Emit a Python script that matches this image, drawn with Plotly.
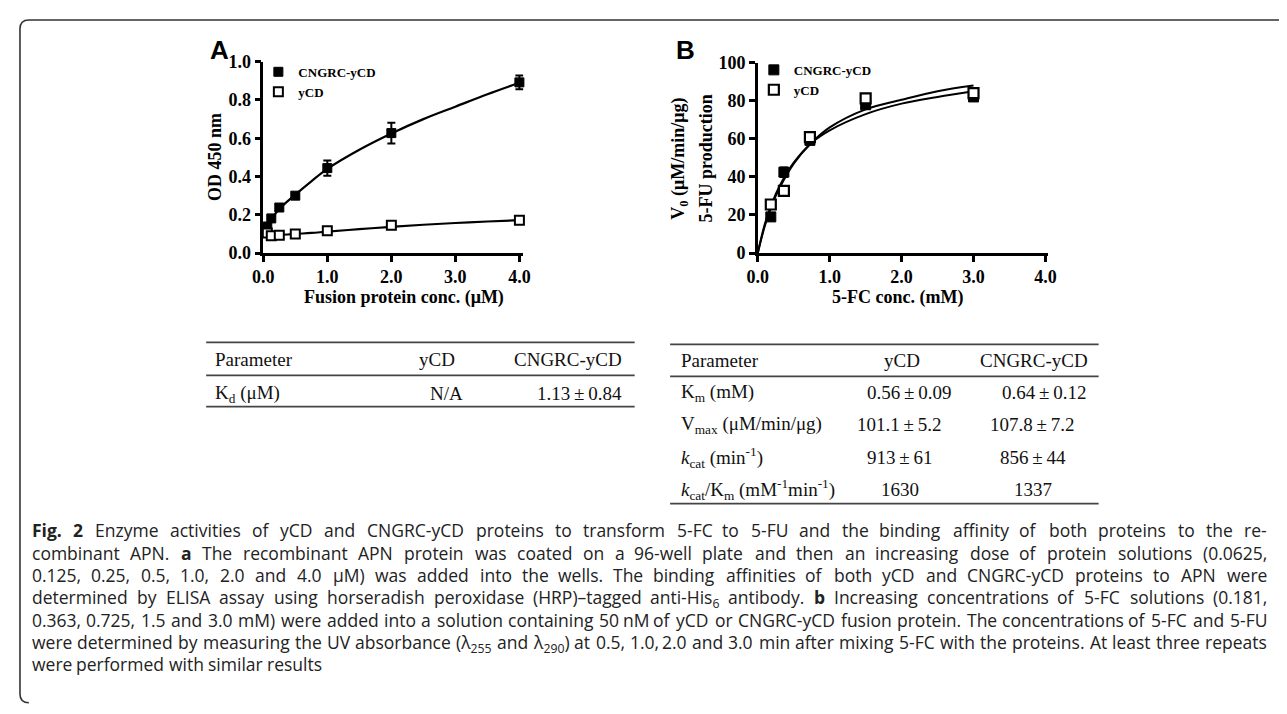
import plotly.graph_objects as go

# page is 1287x714; browser body margin of 8px is kept, so the figure is 16px smaller
PW, PH = 1287, 714
OFF = 8
FW, FH = PW - 2 * OFF, PH - 2 * OFF


def px(x):
    return (x - OFF) / FW


def py(y):
    return 1 - (y - OFF) / FH


# ---------------- data: panel A (binding ELISA) ----------------
a_conc = [0.0625, 0.125, 0.25, 0.5, 1.0, 2.0, 4.0]
a_cngrc = [0.138, 0.181, 0.238, 0.300, 0.444, 0.627, 0.892]
a_cngrc_err = [0.02, 0.012, 0.01, 0.008, 0.040, 0.054, 0.036]
a_ycd = [0.105, 0.090, 0.093, 0.100, 0.117, 0.146, 0.172]
a_ycd_err = [0.008, 0.005, 0.004, 0.004, 0.005, 0.006, 0.006]

a_fit_x = [0.0625, 0.125, 0.25, 0.5, 0.75, 1.0, 1.5, 2.0, 2.5, 3.0, 3.5, 4.0]
a_fit_cngrc = [0.13, 0.175, 0.23, 0.305, 0.375, 0.44, 0.54, 0.625, 0.70, 0.765, 0.83, 0.89]
a_fit_ycd = [0.09, 0.092, 0.094, 0.100, 0.105, 0.112, 0.125, 0.137, 0.148, 0.157, 0.165, 0.172]

# ---------------- data: panel B (enzyme kinetics) ----------------
b_conc = [0.181, 0.363, 0.725, 1.5, 3.0]
b_cngrc = [19.0, 42.5, 59.2, 77.9, 82.0]
b_cngrc_err = [1.5, 2.5, 1.0, 1.5, 1.0]
b_ycd = [25.5, 32.7, 60.9, 81.3, 84.0]

b_fit_x = [0, 0.1, 0.2, 0.3, 0.5, 0.75, 1.0, 1.5, 2.0, 2.5, 3.0]
b_fit_cngrc = [0, 14.5, 25.5, 34.0, 47.0, 58.0, 66.0, 75.5, 80.5, 85.0, 88.0]
b_fit_ycd = [0, 15.5, 26.5, 35.0, 47.5, 58.0, 64.5, 73.0, 78.5, 82.0, 85.0]

series_names = ["CNGRC-yCD", "yCD"]

# ---------------- tables ----------------
table_cols = ["Parameter", "yCD", "CNGRC-yCD"]
table_a_params = ["K<sub>d</sub> (μM)"]
table_a_ycd = ["N/A"]
table_a_cngrc = ["1.13\u2009±\u20090.84"]

table_b_params = [
    "K<sub>m</sub> (mM)",
    "V<sub>max</sub> (μM/min/μg)",
    "<i>k</i><sub>cat</sub> (min<sup>-1</sup>)",
    "<i>k</i><sub>cat</sub>/K<sub>m</sub> (mM<sup>-1</sup>min<sup>-1</sup>)",
]
table_b_ycd = ["0.56\u2009±\u20090.09", "101.1\u2009±\u20095.2", "913\u2009±\u200961", "1630"]
table_b_cngrc = ["0.64\u2009±\u20090.12", "107.8\u2009±\u20097.2", "856\u2009±\u200944", "1337"]

# caption, one string per printed (justified) line
caption_lines = [
    "<b>Fig.</b> <b>2</b> Enzyme activities of yCD and CNGRC-yCD proteins to transform 5-FC to 5-FU and the binding affinity of both proteins to the re-",
    "combinant APN. <b>a</b> The recombinant APN protein was coated on a 96-well plate and then an increasing dose of protein solutions (0.0625,",
    "0.125, 0.25, 0.5, 1.0, 2.0 and 4.0 μM) was added into the wells. The binding affinities of both yCD and CNGRC-yCD proteins to APN were",
    "determined by ELISA assay using horseradish peroxidase (HRP)–tagged anti-His<sub>6</sub> antibody. <b>b</b> Increasing concentrations of 5-FC solutions (0.181,",
    "0.363, 0.725, 1.5 and 3.0 mM) were added into a solution containing 50 nM of yCD or CNGRC-yCD fusion protein. The concentrations of 5-FC and 5-FU",
    "were determined by measuring the UV absorbance (λ<sub>255</sub> and λ<sub>290</sub>) at 0.5, 1.0, 2.0 and 3.0 min after mixing 5-FC with the proteins. At least three repeats",
    "were performed with similar results",
]

SERIF = "Liberation Serif, Times New Roman, serif"
SANS = "Liberation Sans, Arial, sans-serif"
CAP = "Open Sans, Noto Sans, sans-serif"

fig = go.Figure()

# ----- panel A traces -----
fig.add_trace(go.Scatter(x=a_fit_x, y=a_fit_cngrc, mode="lines", line=dict(color="black", width=2.2, shape="spline"),
                         showlegend=False, hoverinfo="skip", xaxis="x", yaxis="y"))
fig.add_trace(go.Scatter(x=a_fit_x, y=a_fit_ycd, mode="lines", line=dict(color="black", width=2.2, shape="spline"),
                         showlegend=False, hoverinfo="skip", xaxis="x", yaxis="y"))
fig.add_trace(go.Scatter(x=a_conc, y=a_cngrc, mode="markers", name=series_names[0],
                         marker=dict(symbol="square", size=9, color="black", line=dict(color="black", width=1)),
                         error_y=dict(type="data", array=a_cngrc_err, color="black", thickness=2, width=4),
                         cliponaxis=False, xaxis="x", yaxis="y", legend="legend"))
fig.add_trace(go.Scatter(x=a_conc, y=a_ycd, mode="markers", name=series_names[1],
                         marker=dict(symbol="square", size=9, color="white", line=dict(color="black", width=2)),
                         error_y=dict(type="data", array=a_ycd_err, color="black", thickness=1.5, width=3),
                         cliponaxis=False, xaxis="x", yaxis="y", legend="legend"))

# ----- panel B traces -----
fig.add_trace(go.Scatter(x=b_fit_x, y=b_fit_cngrc, mode="lines", line=dict(color="black", width=2, shape="spline"),
                         showlegend=False, hoverinfo="skip", xaxis="x2", yaxis="y2"))
fig.add_trace(go.Scatter(x=b_fit_x, y=b_fit_ycd, mode="lines", line=dict(color="black", width=2, shape="spline"),
                         showlegend=False, hoverinfo="skip", xaxis="x2", yaxis="y2"))
fig.add_trace(go.Scatter(x=b_conc, y=b_cngrc, mode="markers", name=series_names[0],
                         marker=dict(symbol="square", size=10, color="black", line=dict(color="black", width=1)),
                         error_y=dict(type="data", array=b_cngrc_err, color="black", thickness=2, width=4),
                         cliponaxis=False, xaxis="x2", yaxis="y2", legend="legend2"))
fig.add_trace(go.Scatter(x=b_conc, y=b_ycd, mode="markers", name=series_names[1],
                         marker=dict(symbol="square", size=10, color="white", line=dict(color="black", width=2.2)),
                         cliponaxis=False, xaxis="x2", yaxis="y2", legend="legend2"))

tickfont = dict(family=SERIF, size=18, color="black", weight="bold")
axis_common = dict(showline=True, linecolor="black", linewidth=2.5, ticks="outside", ticklen=6,
                   tickwidth=2.5, tickcolor="black", showgrid=False, zeroline=False, tickfont=tickfont)

fig.update_layout(
    width=FW, height=FH,
    margin=dict(l=0, r=0, t=0, b=0),
    paper_bgcolor="white", plot_bgcolor="rgba(0,0,0,0)",
    xaxis=dict(domain=[px(256), px(520)], range=[0, 4 * 264 / 260], anchor="y",
               tickvals=[0, 1, 2, 3, 4], tickformat=".1f", **axis_common),
    yaxis=dict(domain=[py(250), py(53)], range=[0, 1], anchor="x",
               tickvals=[0, 0.2, 0.4, 0.6, 0.8, 1.0], tickformat=".1f", **axis_common),
    xaxis2=dict(domain=[px(758), px(1053)], range=[0, 4 * 295 / 292], anchor="y2",
                tickvals=[0, 1, 2, 3, 4], tickformat=".1f", **axis_common),
    yaxis2=dict(domain=[py(250), py(54)], range=[0, 100], anchor="x2",
                tickvals=[0, 20, 40, 60, 80, 100], tickformat="d", **axis_common),
    legend=dict(x=px(251), y=py(48), xanchor="left", yanchor="top", bgcolor="rgba(0,0,0,0)",
                font=dict(family=SERIF, size=13, color="black", weight="bold"), itemwidth=30,
                tracegroupgap=0),
    legend2=dict(x=px(754), y=py(46), xanchor="left", yanchor="top", bgcolor="rgba(0,0,0,0)",
                 font=dict(family=SERIF, size=13, color="black", weight="bold"), itemwidth=30,
                 tracegroupgap=0),
)

ann = []


def add_text(x, y, text, size, family, xanchor="center", angle=0, weight="normal", color="black",
             yanchor="middle"):
    ann.append(dict(x=px(x), y=py(y), xref="paper", yref="paper", text=text, showarrow=False,
                    xanchor=xanchor, yanchor=yanchor, textangle=angle, borderpad=0,
                    font=dict(family=family, size=size, color=color, weight=weight)))


# panel letters
add_text(212, 41, "A", 26, SANS, weight="bold")
add_text(685, 41, "B", 26, SANS, weight="bold")

# axis titles
add_text(399, 296, "Fusion protein conc. (μM)", 18, SERIF, weight="bold")
add_text(207, 151, "OD 450 nm", 18, SERIF, angle=-90, weight="bold")
add_text(900, 296, "5-FC conc. (mM)", 18, SERIF, weight="bold")
add_text(679, 153, "V<sub>0</sub> (μM/min/μg)", 18, SERIF, angle=-90, weight="bold")
add_text(705, 153, "5-FU production", 18, SERIF, angle=-90, weight="bold")

# ----- table A -----
shapes = []
TS = 19
for yy in [342, 376, 408]:
    shapes.append(dict(type="line", xref="paper", yref="paper", x0=px(198), x1=px(633), y0=py(yy), y1=py(yy),
                       line=dict(color="#444", width=1.8)))
add_text(206, 360, table_cols[0], TS, SERIF, xanchor="left", color="#111")
add_text(432, 360, table_cols[1], TS, SERIF, color="#111")
add_text(565, 360, table_cols[2], TS, SERIF, color="#111")
for i, (p, v1, v2) in enumerate(zip(table_a_params, table_a_ycd, table_a_cngrc)):
    yy = 395 + 33 * i
    add_text(206, yy, p, TS, SERIF, xanchor="left", color="#111")
    add_text(442, yy, v1, TS, SERIF, color="#111")
    add_text(577, yy, v2, TS, SERIF, color="#111")

# ----- table B -----
for yy in [344, 377, 508]:
    shapes.append(dict(type="line", xref="paper", yref="paper", x0=px(669), x1=px(1104), y0=py(yy), y1=py(yy),
                       line=dict(color="#444", width=1.8)))
add_text(679, 361, table_cols[0], TS, SERIF, xanchor="left", color="#111")
add_text(904, 361, table_cols[1], TS, SERIF, color="#111")
add_text(1038, 361, table_cols[2], TS, SERIF, color="#111")
b_col1_x = [912, 902, 902, 902]
b_col2_x = [1049, 1037, 1037, 1037]
for i, (p, v1, v2) in enumerate(zip(table_b_params, table_b_ycd, table_b_cngrc)):
    yy = 394 + 33 * i
    add_text(679, yy, p, TS, SERIF, xanchor="left", color="#111")
    add_text(b_col1_x[i], yy, v1, TS, SERIF, color="#111")
    add_text(b_col2_x[i], yy, v2, TS, SERIF, color="#111")

# ----- caption (justified word by word, Open Sans advance widths in 1/2048 em) -----
_OS = {' ': 532, ',': 502, '-': 659, '.': 545, '/': 752, '(': 606, ')': 606, ':': 545, '–': 1024,
       'μ': 1266, 'λ': 1100, '±': 1171,
       'A': 1296, 'B': 1327, 'C': 1292, 'D': 1493, 'E': 1139, 'F': 1057, 'G': 1491, 'H': 1511, 'I': 571,
       'J': 547, 'K': 1257, 'L': 1073, 'M': 1857, 'N': 1581, 'O': 1595, 'P': 1237, 'Q': 1595, 'R': 1286,
       'S': 1104, 'T': 1124, 'U': 1489, 'V': 1212, 'W': 1889, 'X': 1178, 'Y': 1141, 'Z': 1149,
       'a': 1139, 'b': 1255, 'c': 975, 'd': 1255, 'e': 1149, 'f': 694, 'g': 1122, 'h': 1257, 'i': 518,
       'j': 518, 'k': 1075, 'l': 518, 'm': 1905, 'n': 1257, 'o': 1237, 'p': 1255, 'q': 1255, 'r': 836,
       's': 977, 't': 723, 'u': 1257, 'v': 1026, 'w': 1593, 'x': 1073, 'y': 1028, 'z': 954}


def word_width(word, size):
    bold = "<b>" in word
    w, sub, i = 0.0, False, 0
    while i < len(word):
        if word[i] == "<":
            j = word.index(">", i)
            tag = word[i + 1:j]
            if tag == "sub":
                sub = True
            elif tag == "/sub":
                sub = False
            i = j + 1
            continue
        ch = word[i]
        cw = 1171 if ch.isdigit() else _OS.get(ch, 1150)
        w += cw / 2048 * size * (0.7 if sub else 1.0) * (1.06 if bold else 1.0)
        i += 1
    return w * 1.01


CS = 17.5
CAP_L, CAP_R = 20, 1276
space_w = _OS[' '] / 2048 * CS
for li, line in enumerate(caption_lines):
    ytop = 535 + 23 * li - 13
    words = line.split(" ")
    widths = [word_width(w, CS) for w in words]
    last = li == len(caption_lines) - 1
    if last:
        x = CAP_L
        for w, ww in zip(words, widths):
            add_text(x, ytop, w, CS, CAP, xanchor="left", color="#222", yanchor="top")
            x += ww + space_w
        continue
    gap = max((CAP_R - CAP_L - sum(widths)) / (len(words) - 1), 0.8 * space_w)
    half = len(words) // 2
    # first half flows from the left margin
    x = CAP_L
    for w, ww in zip(words[:half], widths[:half]):
        add_text(x, ytop, w, CS, CAP, xanchor="left", color="#222", yanchor="top")
        x += ww + gap
    # second half flows back from the right margin
    xr = CAP_R
    for w, ww in reversed(list(zip(words[half:], widths[half:]))):
        add_text(xr, ytop, w, CS, CAP, xanchor="right", color="#222", yanchor="top")
        xr -= ww + gap

# frame of the figure box (rounded corners)
shapes.append(dict(type="path", xref="paper", yref="paper",
                   path=f"M {px(1300)},{py(10)} L {px(18)},{py(10)} Q {px(9)},{py(10)} {px(9)},{py(19)} "
                        f"L {px(9)},{py(704)} Q {px(9)},{py(713)} {px(18)},{py(713)}",
                   line=dict(color="#333", width=1.6)))

fig.update_layout(annotations=ann, shapes=shapes)

fig.write_html("out.html", config={"displayModeBar": False})
